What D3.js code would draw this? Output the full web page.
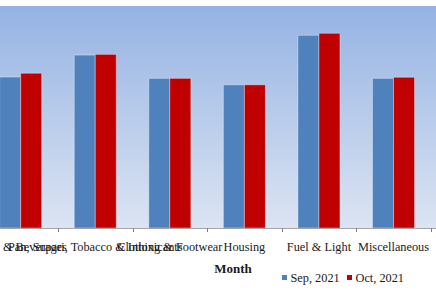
<!DOCTYPE html>
<html>
<head>
<meta charset="utf-8">
<script src="https://cdn.jsdelivr.net/npm/d3@7"></script>
<style>
  html, body { margin: 0; padding: 0; background: #fff; }
  svg { display: block; }
</style>
</head>
<body>
<svg width="436" height="300"></svg>
<script>
var categories = ["Food & Beverages", "Pan, Supari, Tobacco & Intoxicants", "Clothing & Footwear", "Housing", "Fuel & Light", "Miscellaneous"]
var seriesNames = ["Sep, 2021", "Oct, 2021"]
var sepValues = [68.0, 77.9, 67.4, 64.5, 86.8, 67.4]
var octValues = [69.7, 78.2, 67.4, 64.5, 87.7, 67.9]
var seriesColors = ["#4f81bd", "#c00000"]

main()

function main() {
  var PLOT_TOP = 6
  var PLOT_BOTTOM = 228
  var PLOT_LEFT = -17
  var PLOT_RIGHT = 436
  var BAND_LEFT = -16.6
  var BAND_RIGHT = 430.8
  var PAIR_WIDTH = 42
  var FONT = "'Liberation Serif', 'Times New Roman', serif"

  var svg = d3.select("svg")

  var defs = svg.append("defs")
  var grad = defs.append("linearGradient")
      .attr("id", "plot-bg")
      .attr("x1", 0).attr("y1", 0)
      .attr("x2", 0).attr("y2", 1)
  grad.append("stop").attr("offset", "0%").attr("stop-color", "#95b3e3")
  grad.append("stop").attr("offset", "100%").attr("stop-color", "#dce4f3")

  svg.append("rect")
      .attr("x", PLOT_LEFT)
      .attr("y", PLOT_TOP)
      .attr("width", PLOT_RIGHT - PLOT_LEFT)
      .attr("height", PLOT_BOTTOM - PLOT_TOP)
      .attr("fill", "url(#plot-bg)")

  var x0 = d3.scaleBand()
      .domain(categories)
      .range([BAND_LEFT, BAND_RIGHT])
      .padding(0)

  var x1 = d3.scaleBand()
      .domain(seriesNames)
      .range([0, PAIR_WIDTH])
      .padding(0)

  var y = d3.scaleLinear()
      .domain([0, 100])
      .range([PLOT_BOTTOM, PLOT_TOP])

  var rows = categories.map(function(c, i) {
    return { cat: c, values: [sepValues[i], octValues[i]] }
  })

  var groups = svg.append("g")
    .selectAll("g")
    .data(rows)
    .join("g")
      .attr("transform", function(d) {
        return "translate(" + (x0(d.cat) + (x0.bandwidth() - PAIR_WIDTH) / 2) + ",0)"
      })

  groups.selectAll("rect")
    .data(function(d) {
      return d.values.map(function(v, i) { return { name: seriesNames[i], value: v, color: seriesColors[i] } })
    })
    .join("rect")
      .attr("x", function(d) { return x1(d.name) })
      .attr("y", function(d) { return y(d.value) })
      .attr("width", x1.bandwidth())
      .attr("height", function(d) { return PLOT_BOTTOM - y(d.value) })
      .attr("fill", function(d) { return d.color })
      .attr("stroke", "#ffffff")
      .attr("stroke-opacity", 0.35)
      .attr("stroke-width", 1)

  // x axis
  var axis = svg.append("g")
      .attr("transform", "translate(0," + PLOT_BOTTOM + ")")
      .call(d3.axisBottom(x0).tickSize(0).tickPadding(14))

  axis.select(".domain")
      .attr("stroke", "#a6a6a6")
      .attr("d", "M" + PLOT_LEFT + ",0.5H" + PLOT_RIGHT)

  axis.selectAll("text")
      .attr("font-family", FONT)
      .attr("font-size", 12.3)
      .attr("fill", "#1a1a1a")

  // tick marks sit on band edges
  var edges = categories.map(function(c) { return x0(c) + x0.bandwidth() })
  axis.append("g")
    .selectAll("line")
    .data(edges)
    .join("line")
      .attr("x1", function(d) { return Math.round(d) + 0.5 })
      .attr("x2", function(d) { return Math.round(d) + 0.5 })
      .attr("y1", 0)
      .attr("y2", 4)
      .attr("stroke", "#808080")

  svg.append("text")
      .attr("x", 233)
      .attr("y", 273)
      .attr("text-anchor", "middle")
      .attr("font-family", FONT)
      .attr("font-weight", "bold")
      .attr("font-size", 13)
      .attr("fill", "#1a1a1a")
      .text("Month")

  // legend
  var legendX = [282, 347]
  var legend = svg.append("g")
    .selectAll("g")
    .data(seriesNames)
    .join("g")
      .attr("transform", function(d, i) { return "translate(" + legendX[i] + ",275)" })

  legend.append("rect")
      .attr("width", 5)
      .attr("height", 5)
      .attr("fill", function(d, i) { return seriesColors[i] })

  legend.append("text")
      .attr("x", 8.5)
      .attr("y", 7)
      .attr("font-family", FONT)
      .attr("font-size", 12.3)
      .attr("fill", "#1a1a1a")
      .text(function(d) { return d })
}
</script>
</body>
</html>
